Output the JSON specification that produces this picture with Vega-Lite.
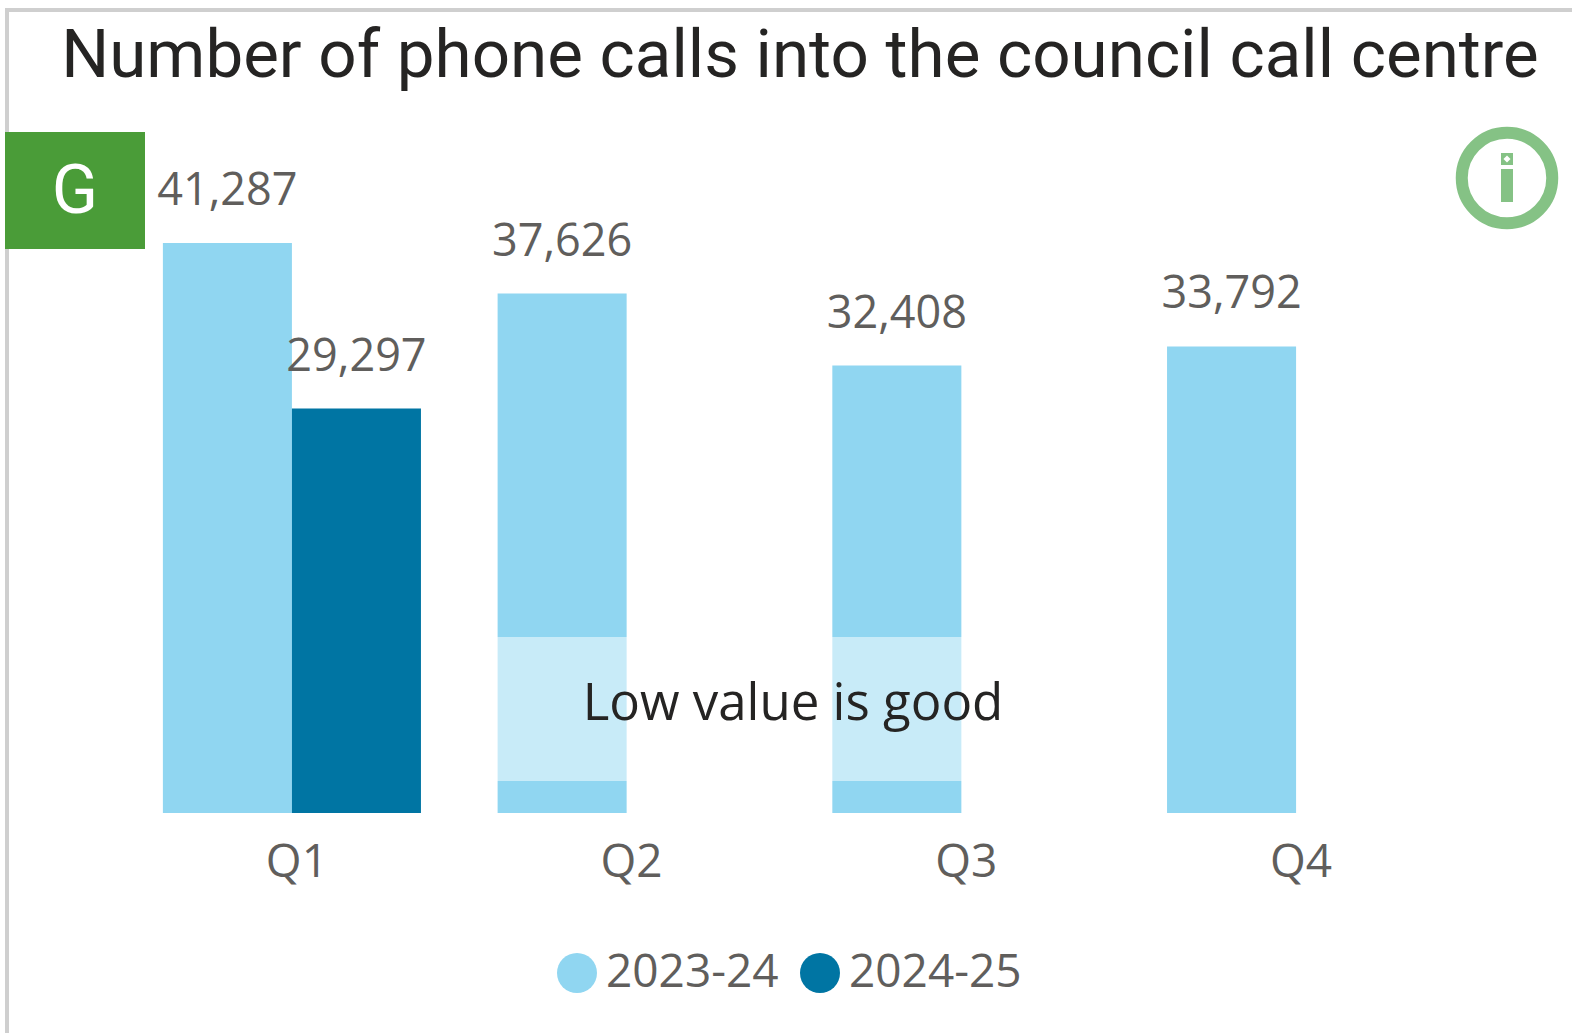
{
"$schema":"https://vega.github.io/schema/vega-lite/v6.json",
"autosize":{"type":"none"},
"padding":{"left":29,"top":120,"right":13,"bottom":220},
"width":1530,"height":693,
"background":"white",
"config":{"view":{"stroke":null}},
"title":{"text":"Number of phone calls into the council call centre","font":"Roboto","fontSize":67.3,"fontWeight":"normal","color":"#252423","anchor":"middle","frame":"group","orient":"top","baseline":"alphabetic","offset":-136,"dx":6},
"data":{"name":"calls","values":[
{"quarter":"Q1","year":"2023-24","calls":41287},
{"quarter":"Q1","year":"2024-25","calls":29297},
{"quarter":"Q2","year":"2023-24","calls":37626},
{"quarter":"Q3","year":"2023-24","calls":32408},
{"quarter":"Q4","year":"2023-24","calls":33792}
]},
"layer":[
{"data":{"values":[{}]},"mark":{"type":"rect","x":-24,"x2":-20,"y":-112,"y2":913,"color":"#CFCFCF","clip":false}},
{"data":{"values":[{}]},"mark":{"type":"rect","x":-24,"x2":1543,"y":-112,"y2":-108,"color":"#CFCFCF","clip":false}},
{"mark":{"type":"bar"},
"encoding":{
"x":{"field":"quarter","type":"nominal","scale":{"domain":["Q1","Q2","Q3","Q4"],"paddingInner":0.229,"paddingOuter":0.4},
"axis":{"title":null,"domain":false,"ticks":false,"grid":false,"labelAngle":0,"labelFont":"Open Sans","labelFontSize":46,"labelColor":"#605E5C","labelPadding":27,"labelOffset":5}},
"xOffset":{"field":"year","type":"nominal","scale":{"domain":["2023-24","2024-25"],"paddingInner":0,"paddingOuter":0}},
"y":{"field":"calls","type":"quantitative","scale":{"domain":[0,50196],"nice":false},"axis":null},
"color":{"field":"year","type":"nominal","scale":{"domain":["2023-24","2024-25"],"range":["#90D6F1","#0075A3"]},
"legend":{"title":null,"orient":"none","legendX":525,"legendY":830,"direction":"horizontal","symbolType":"circle","symbolSize":1600,"symbolOpacity":1,"labelFont":"Open Sans","labelFontSize":46,"labelColor":"#605E5C","labelOffset":6,"labelLimit":400,"columnPadding":18,"symbolStrokeWidth":0}}
}},
{"mark":{"type":"text","font":"Open Sans","fontSize":45,"color":"#605E5C","baseline":"alphabetic","align":"center","dy":-38},
"encoding":{
"x":{"field":"quarter","type":"nominal"},
"xOffset":{"field":"year","type":"nominal"},
"y":{"field":"calls","type":"quantitative"},
"text":{"field":"calls","type":"quantitative","format":","}
}},
{"data":{"values":[{}]},"mark":{"type":"rect","x":430,"x2":1100,"y":517,"y2":661,"color":"white","opacity":0.5}},
{"data":{"values":[{"note":"Low value is good"}]},"mark":{"type":"text","font":"Open Sans","fontSize":51,"color":"#252423","x":764,"y":600,"align":"center","baseline":"alphabetic"},"encoding":{"text":{"field":"note"}}},
{"data":{"values":[{}]},"mark":{"type":"rect","x":-24,"x2":116,"y":12,"y2":129,"color":"#4A9C38","clip":false}},
{"data":{"values":[{"badge":"G"}]},"mark":{"type":"text","font":"Roboto","fontSize":68,"color":"white","x":46,"y":93,"align":"center","baseline":"alphabetic"},"encoding":{"text":{"field":"badge"}}},
{"data":{"values":[{}]},"mark":{"type":"point","shape":"circle","x":1478,"y":58,"size":8190,"filled":false,"stroke":"#85C285","strokeWidth":12,"opacity":1,"clip":false}},
{"data":{"values":[{}]},"mark":{"type":"rect","x":1472,"x2":1484,"y":49,"y2":82,"color":"#85C285"}},
{"data":{"values":[{}]},"mark":{"type":"rect","x":1472,"x2":1484,"y":33,"y2":45,"color":"#85C285"}},
{"data":{"values":[{}]},"mark":{"type":"point","shape":"diamond","x":1478,"y":39,"size":50,"filled":true,"color":"white","opacity":1}}
]
}
